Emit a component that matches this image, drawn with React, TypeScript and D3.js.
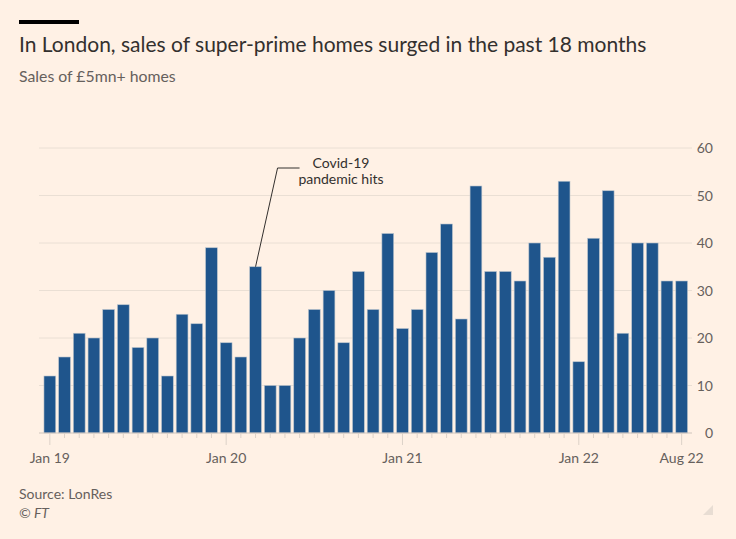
import React from "react";
import * as d3 from "d3";

const months: string[] = [
  "2019-01","2019-02","2019-03","2019-04","2019-05","2019-06","2019-07","2019-08","2019-09","2019-10","2019-11","2019-12",
  "2020-01","2020-02","2020-03","2020-04","2020-05","2020-06","2020-07","2020-08","2020-09","2020-10","2020-11","2020-12",
  "2021-01","2021-02","2021-03","2021-04","2021-05","2021-06","2021-07","2021-08","2021-09","2021-10","2021-11","2021-12",
  "2022-01","2022-02","2022-03","2022-04","2022-05","2022-06","2022-07","2022-08",
];
const sales: number[] = [
  12, 16, 21, 20, 26, 27, 18, 20, 12, 25, 23, 39,
  19, 16, 35, 10, 10, 20, 26, 30, 19, 34, 26, 42,
  22, 26, 38, 44, 24, 52, 34, 34, 32, 40, 37, 53,
  15, 41, 51, 21, 40, 40, 32, 32,
];
const labelledMonths: string[] = ["2019-01", "2020-01", "2021-01", "2022-01", "2022-08"];
const xTickLabels: string[] = ["Jan 19", "Jan 20", "Jan 21", "Jan 22", "Aug 22"];
const yTicks: number[] = [0, 10, 20, 30, 40, 50, 60];
const annotationMonth = "2020-03";
const annotationLines: string[] = ["Covid-19", "pandemic hits"];

const title = "In London, sales of super-prime homes surged in the past 18 months";
const subtitle = "Sales of £5mn+ homes";
const source = "Source: LonRes";
const copyright = "© FT";

const W = 736;
const H = 539;
const FONT = "Lato, 'Noto Sans', sans-serif";

export default function App() {
  const x = d3.scaleBand<string>().domain(months).range([42.5, 689]).paddingInner(0.2).paddingOuter(0.1);
  const y = d3.scaleLinear().domain([0, 60]).range([433, 148]);
  const gridX0 = 39;
  const gridX1 = 692;

  const annX = (x(annotationMonth) as number) + x.bandwidth() / 2;
  const annIdx = months.indexOf(annotationMonth);
  const annY = y(sales[annIdx]);

  return (
    <svg width={W} height={H} style={{ position: "absolute", left: 0, top: 0, display: "block" }}>
      <rect x={0} y={0} width={W} height={H} fill="#fff1e5" />
      <rect x={19} y={20} width={60} height={4} fill="#000" />
      <text x={19} y={52} fontFamily={FONT} fontSize={21} fill="#33302e">{title}</text>
      <text x={19} y={82} fontFamily={FONT} fontSize={15.8} fill="#66605c">{subtitle}</text>

      {yTicks.map((t) => (
        <g key={t}>
          {t !== 0 && (
            <line x1={gridX0} x2={gridX1} y1={y(t)} y2={y(t)} stroke="#eadfd4" strokeWidth={1} />
          )}
          <text x={713} y={y(t) + 5} textAnchor="end" fontFamily={FONT} fontSize={14} fill="#66605c">{t}</text>
        </g>
      ))}

      {months.map((m, i) => (
        <rect
          key={m}
          x={x(m) as number}
          y={y(sales[i])}
          width={x.bandwidth()}
          height={y(0) - y(sales[i])}
          fill="#1f558c"
          stroke="#b9c3cc"
          strokeWidth={0.6}
        />
      ))}

      <line x1={gridX0} x2={gridX1} y1={y(0)} y2={y(0)} stroke="#cfc5bc" strokeWidth={1} />

      {months.map((m) => {
        const cx = (x(m) as number) + x.bandwidth() / 2;
        const li = labelledMonths.indexOf(m);
        return (
          <g key={"t" + m}>
            <line x1={cx} x2={cx} y1={y(0)} y2={li >= 0 ? 445 : 438} stroke="#ddd2c8" strokeWidth={1} />
            {li >= 0 && (
              <text x={cx} y={463} textAnchor="middle" fontFamily={FONT} fontSize={14} fill="#66605c">{xTickLabels[li]}</text>
            )}
          </g>
        );
      })}

      <polyline
        points={`${annX},${annY} ${annX + 22},${168} ${annX + 44},${168}`}
        fill="none"
        stroke="#33302e"
        strokeWidth={1}
      />
      {annotationLines.map((l, i) => (
        <text key={l} x={341} y={168 + i * 16} textAnchor="middle" fontFamily={FONT} fontSize={14} fill="#33302e">{l}</text>
      ))}

      <text x={19} y={499} fontFamily={FONT} fontSize={14} fill="#66605c">{source}</text>
      <text x={19} y={518} fontFamily={FONT} fontSize={14} fontStyle="italic" fill="#66605c">{copyright}</text>
      <path d="M713,505 L713,515 L703,515 Z" fill="#e8ddd3" />
    </svg>
  );
}
